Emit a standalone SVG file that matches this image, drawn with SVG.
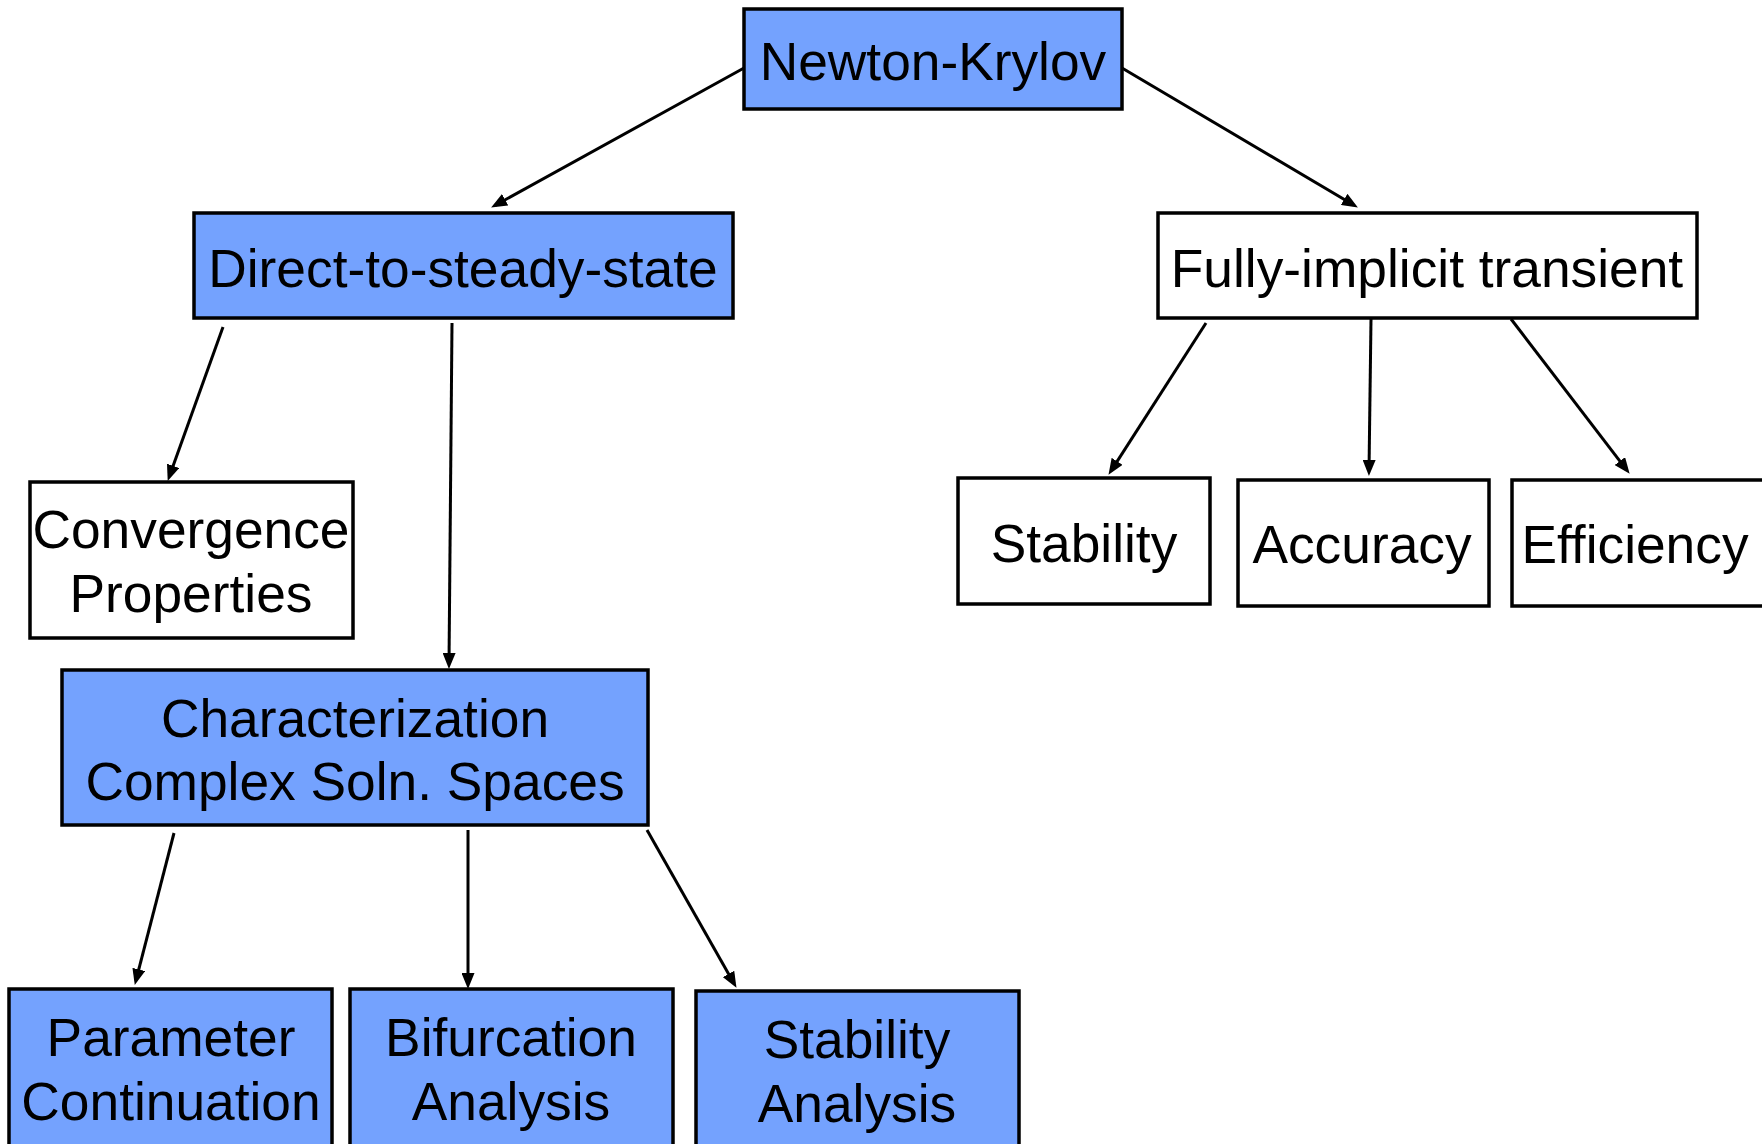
<svg xmlns="http://www.w3.org/2000/svg" width="1762" height="1144" viewBox="0 0 1762 1144">
<style>
.box{stroke:#000;stroke-width:3.5}
.blue{fill:#74a2fe}
.white{fill:#fff}
text{font-family:"Liberation Sans",Arial,sans-serif;font-size:53.3px;fill:#000;text-anchor:middle}
.edge{stroke:#000;stroke-width:3;fill:none;marker-end:url(#arrow)}
</style>
<defs>
<marker id="arrow" markerUnits="userSpaceOnUse" markerWidth="17" markerHeight="13" refX="11" refY="6.5" orient="auto">
<path d="M0,0 L16,6.5 L0,13 z" fill="#000"/>
</marker>
</defs>
<rect width="1762" height="1144" fill="#fff"/>
<g id="connectors">
<path class="edge" d="M744,68 L495.5,205.1"/>
<path class="edge" d="M1122,68 L1353.6,205"/>
<path class="edge" d="M223,327 L169.4,476.2"/>
<path class="edge" d="M452,323 L449,664"/>
<path class="edge" d="M1206,323 L1111.2,470.6"/>
<path class="edge" d="M1371,319 L1369,471"/>
<path class="edge" d="M1511,319 L1626.6,469.8"/>
<path class="edge" d="M174,833 L136,980.1"/>
<path class="edge" d="M468,830 L468,984"/>
<path class="edge" d="M647,830 L734,983.5"/>
</g>
<g id="newton-krylov">
<rect class="box blue" x="744" y="9" width="378" height="100"/>
<text x="933" y="80">Newton-Krylov</text>
</g>
<g id="direct-to-steady-state">
<rect class="box blue" x="194" y="213" width="539" height="105"/>
<text x="463" y="287">Direct-to-steady-state</text>
</g>
<g id="fully-implicit-transient">
<rect class="box white" x="1158" y="213" width="539" height="105"/>
<text x="1427" y="287">Fully-implicit transient</text>
</g>
<g id="convergence-properties">
<rect class="box white" x="30" y="482" width="323" height="156"/>
<text x="191" y="548">Convergence</text>
<text x="191" y="612">Properties</text>
</g>
<g id="stability">
<rect class="box white" x="958" y="478" width="252" height="126"/>
<text x="1084" y="562">Stability</text>
</g>
<g id="accuracy">
<rect class="box white" x="1238" y="480" width="251" height="126"/>
<text x="1362" y="563">Accuracy</text>
</g>
<g id="efficiency">
<rect class="box white" x="1512" y="480" width="270" height="126"/>
<text x="1635" y="563">Efficiency</text>
</g>
<g id="characterization">
<rect class="box blue" x="62" y="670" width="586" height="155"/>
<text x="355" y="737">Characterization</text>
<text x="355" y="800">Complex Soln. Spaces</text>
</g>
<g id="parameter-continuation">
<rect class="box blue" x="9" y="989" width="323" height="170"/>
<text x="171" y="1056">Parameter</text>
<text x="171" y="1120">Continuation</text>
</g>
<g id="bifurcation-analysis">
<rect class="box blue" x="350" y="989" width="323" height="170"/>
<text x="511" y="1056">Bifurcation</text>
<text x="511" y="1120">Analysis</text>
</g>
<g id="stability-analysis">
<rect class="box blue" x="696" y="991" width="323" height="170"/>
<text x="857" y="1058">Stability</text>
<text x="857" y="1122">Analysis</text>
</g>
</svg>
